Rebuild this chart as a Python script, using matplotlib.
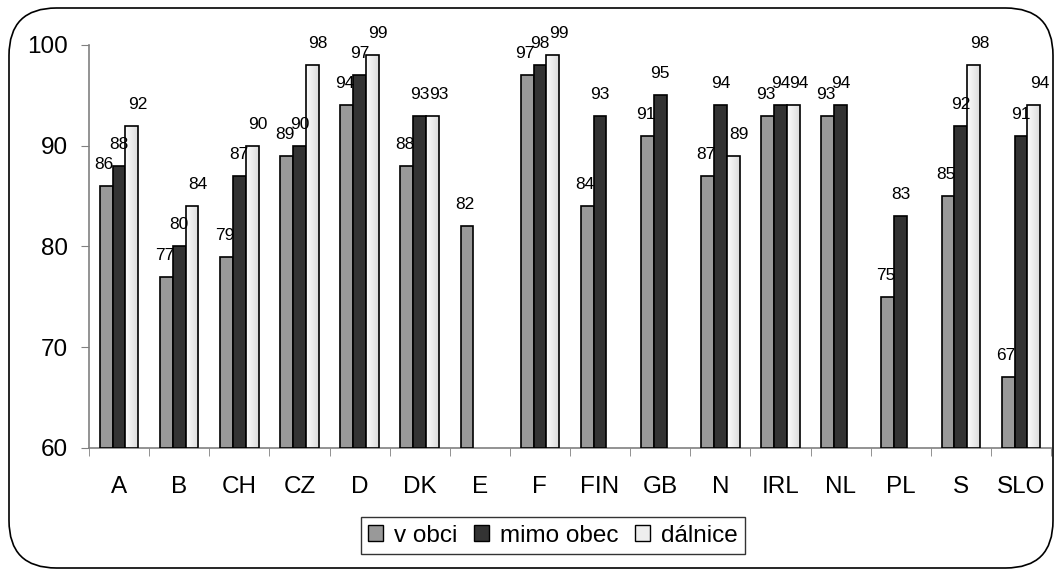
import numpy as np
import matplotlib
matplotlib.use("Agg")
import matplotlib.pyplot as plt
from matplotlib.patches import FancyBboxPatch, Patch

plt.rcParams['font.family'] = ['Liberation Sans', 'DejaVu Sans']

categories = ["A", "B", "CH", "CZ", "D", "DK", "E", "F", "FIN", "GB",
              "N", "IRL", "NL", "PL", "S", "SLO"]
v_obci = [86, 77, 79, 89, 94, 88, 82, 97, 84, 91, 87, 93, 93, 75, 85, 67]
mimo_obec = [88, 80, 87, 90, 97, 93, None, 98, 93, 95, 94, 94, 94, 83, 92, 91]
dalnice = [92, 84, 90, 98, 99, 93, None, 99, None, None, 89, 94, None, None, 98, 94]
series_names = ["v obci", "mimo obec", "dálnice"]

W, H = 1054, 571
fig = plt.figure(figsize=(W / 100, H / 100), dpi=100)

# rounded outer frame
frame = FancyBboxPatch((9 / W, 3 / H), (1053 - 9) / W, (563 - 3) / H,
                       boxstyle="round,pad=0,rounding_size=0.045",
                       transform=fig.transFigure, facecolor="none",
                       edgecolor="black", linewidth=1.2, zorder=-1,
                       mutation_aspect=W / H)
fig.patches.append(frame)

ax_left, ax_right = 89 / W, 1051 / W
ax_top, ax_bottom = 45 / H, 448 / H
ax = fig.add_axes([ax_left, 1 - ax_bottom, ax_right - ax_left, ax_bottom - ax_top])
ax.set_facecolor("none")

n = len(categories)
x = np.arange(n)
bw = 0.213
offsets = [-bw, 0, bw]
colors = ["#999999", "#333333", None]
label_dx = [-2, 0, 6]

grad = np.linspace(0.99, 0.86, 64).reshape(1, -1)

for s, (vals, off, col) in enumerate(zip([v_obci, mimo_obec, dalnice], offsets, colors)):
    for i, v in enumerate(vals):
        if v is None:
            continue
        xc = x[i] + off
        if col is not None:
            ax.bar(xc, v - 60, bw, bottom=60, color=col, edgecolor="black",
                   linewidth=1.2, zorder=3)
        else:
            b = ax.bar(xc, v - 60, bw, bottom=60, color="none", edgecolor="black",
                       linewidth=1.2, zorder=4)[0]
            im = ax.imshow(grad, cmap="gray", vmin=0, vmax=1, aspect="auto",
                           extent=(xc - bw / 2, xc + bw / 2, 60, v), zorder=3)
            im.set_clip_path(b)
        ax.annotate(str(v), (xc, v), xytext=(label_dx[s], 17),
                    textcoords="offset pixels", ha="center", va="baseline",
                    fontsize=12.5, zorder=5)

ax.set_xlim(-0.5, n - 0.5)
ax.set_ylim(60, 100)
ax.set_yticks([60, 70, 80, 90, 100])
ax.tick_params(axis="y", labelsize=17.5, length=6, color="#808080", pad=9)
ax.set_xticks(x)
ax.set_xticklabels(categories)
ax.tick_params(axis="x", which="major", length=0, labelsize=17.5, pad=20)
ax.set_xticks(np.arange(-0.5, n), minor=True)
ax.tick_params(axis="x", which="minor", length=6, color="#808080")

for side in ["top", "right"]:
    ax.spines[side].set_visible(False)
for side in ["left", "bottom"]:
    ax.spines[side].set_color("#808080")
    ax.spines[side].set_linewidth(1.2)

handles = [Patch(facecolor="#999999", edgecolor="black"),
           Patch(facecolor="#333333", edgecolor="black"),
           Patch(facecolor="#eeeeee", edgecolor="black")]
leg = fig.legend(handles, series_names, loc="center", ncol=3,
                 bbox_to_anchor=(553 / W, 1 - 535.5 / H), fontsize=17.5,
                 frameon=True, fancybox=False, edgecolor="black",
                 handlelength=0.6, handleheight=0.6, handletextpad=0.45,
                 columnspacing=0.7, borderpad=0.3, borderaxespad=0)
leg.get_frame().set_linewidth(1.0)

fig.savefig("out.png", dpi=100)
